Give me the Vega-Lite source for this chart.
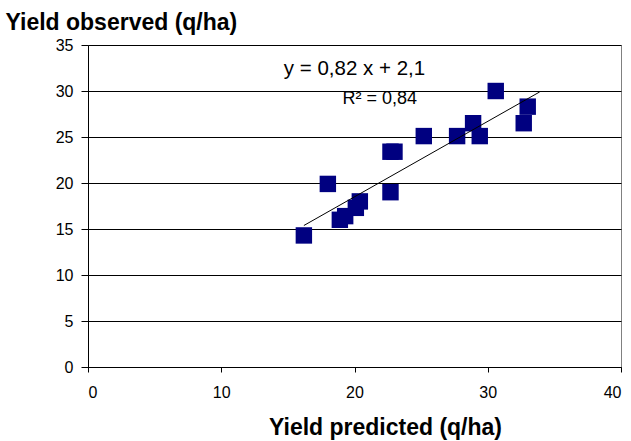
{
  "$schema": "https://vega.github.io/schema/vega-lite/v6.json",
  "width": 533,
  "height": 322,
  "autosize": "none",
  "padding": {"left": 88, "top": 45, "right": 10, "bottom": 74},
  "background": "white",
  "config": {
    "font": "Liberation Sans",
    "view": {"stroke": "#808080", "strokeWidth": 1},
    "axis": {
      "labelFont": "Liberation Sans",
      "labelFontSize": 16,
      "labelColor": "#000000",
      "titleFont": "Liberation Sans",
      "titleFontSize": 23,
      "titleFontWeight": "bold",
      "titleColor": "#000000",
      "domainColor": "#000000",
      "tickColor": "#000000"
    }
  },
  "datasets": {
    "obs": [
      {"pred": 16.2, "obs": 14.3},
      {"pred": 18.0, "obs": 19.9},
      {"pred": 18.9, "obs": 16.0},
      {"pred": 19.3, "obs": 16.4},
      {"pred": 20.1, "obs": 17.3},
      {"pred": 20.4, "obs": 18.0},
      {"pred": 22.7, "obs": 19.0},
      {"pred": 22.7, "obs": 23.4},
      {"pred": 23.0, "obs": 23.4},
      {"pred": 25.2, "obs": 25.1},
      {"pred": 27.7, "obs": 25.1},
      {"pred": 28.9, "obs": 26.5},
      {"pred": 29.4, "obs": 25.1},
      {"pred": 30.6, "obs": 30.0},
      {"pred": 32.7, "obs": 26.5},
      {"pred": 33.0, "obs": 28.3}
    ],
    "fit": [
      {"pred": 16.2, "obs": 15.38},
      {"pred": 33.9, "obs": 29.90}
    ],
    "notes": [
      {"pred": 20.0, "obs": 32.4, "label": "y = 0,82 x + 2,1", "size": 20.5},
      {"pred": 21.9, "obs": 29.15, "label": "R² = 0,84", "size": 18}
    ]
  },
  "encoding": {
    "x": {
      "field": "pred",
      "type": "quantitative",
      "scale": {"domain": [0, 40], "nice": false, "zero": true},
      "axis": {
        "values": [0, 10, 20, 30, 40],
        "grid": false,
        "tickSize": 5,
        "labelPadding": 12,
        "title": "Yield predicted (q/ha)",
        "titleX": 297,
        "titleY": 60,
        "titleAlign": "center",
        "titleBaseline": "middle"
      }
    },
    "y": {
      "field": "obs",
      "type": "quantitative",
      "scale": {"domain": [0, 35], "nice": false},
      "axis": {
        "values": [0, 5, 10, 15, 20, 25, 30, 35],
        "grid": true,
        "gridColor": "#000000",
        "gridOpacity": 1,
        "tickSize": 7,
        "labelPadding": 8,
        "title": "Yield observed (q/ha)",
        "titleAngle": 0,
        "titleAlign": "left",
        "titleBaseline": "middle",
        "titleX": -83,
        "titleY": -23
      }
    }
  },
  "layer": [
    {
      "data": {"name": "obs"},
      "mark": {"type": "point", "shape": "square", "filled": true, "size": 270, "color": "#000080", "opacity": 1}
    },
    {
      "data": {"name": "fit"},
      "mark": {"type": "line", "color": "#000000", "strokeWidth": 1}
    },
    {
      "data": {"name": "notes"},
      "mark": {"type": "text", "color": "#000000", "align": "center", "baseline": "middle", "font": "Liberation Sans"},
      "encoding": {
        "text": {"field": "label"},
        "size": {"field": "size", "type": "quantitative", "scale": null}
      }
    }
  ]
}
